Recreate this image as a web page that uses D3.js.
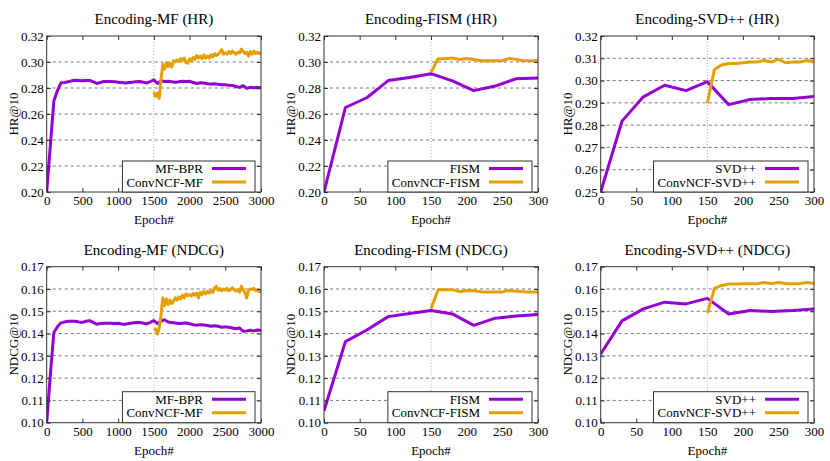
<!DOCTYPE html>
<html>
<head>
<meta charset="utf-8">
<script src="https://cdn.jsdelivr.net/npm/d3@7"></script>
<style>
body {margin:0; background:#fff;}
svg {display:block;}
text {font-family: "Liberation Serif", "Times New Roman", serif; fill:#000;}
</style>
</head>
<body>
<div id="chart"></div>
<script>
// ---- data ----
var mfEpochs = d3.range(0, 3001, 50);
var mfConvEpochs = d3.range(1500, 3001, 25);
var shortEpochs = [0, 30, 60, 90, 120, 150, 180, 210, 240, 270, 300];
var shortConvEpochs = [150, 160, 170, 180, 190, 200, 210, 220, 230, 240, 250, 260, 270, 280, 290, 300];

var mfHrBpr = [0.200,0.235,0.270,0.278,0.284,0.2842,0.2848,0.2855,0.2860,0.2858,0.2855,0.2857,0.2858,0.2848,0.2835,0.2842,0.2850,0.2850,0.2850,0.2848,0.2845,0.2842,0.2838,0.2842,0.2845,0.2848,0.2850,0.2845,0.2838,0.2850,0.2862,0.2835,0.2855,0.2850,0.2852,0.2848,0.2845,0.2848,0.2852,0.2850,0.2852,0.2842,0.2835,0.2840,0.2838,0.2832,0.2830,0.2832,0.2828,0.2825,0.2825,0.2822,0.2820,0.2812,0.2805,0.2818,0.2798,0.2805,0.2802,0.2803,0.2802];
var mfHrConv = [0.2770,0.2735,0.2760,0.2720,0.2865,0.2980,0.2945,0.2995,0.2965,0.2990,0.2960,0.3010,0.3000,0.3015,0.3005,0.3025,0.3010,0.3030,0.2995,0.2990,0.3025,0.3010,0.3035,0.3020,0.3050,0.3030,0.3045,0.3025,0.3055,0.3030,0.3045,0.3030,0.3055,0.3040,0.3065,0.3050,0.3060,0.3075,0.3095,0.3060,0.3070,0.3060,0.3080,0.3065,0.3085,0.3070,0.3060,0.3075,0.3070,0.3100,0.3080,0.3065,0.3075,0.3045,0.3080,0.3060,0.3085,0.3065,0.3075,0.3065,0.3070];
var mfNdcgBpr = [0.100,0.121,0.1405,0.1430,0.1448,0.1452,0.1455,0.1455,0.1455,0.1452,0.1450,0.1455,0.1458,0.1450,0.1442,0.1445,0.1446,0.1446,0.1446,0.1445,0.1446,0.1443,0.1442,0.1445,0.1447,0.1450,0.1450,0.1447,0.1443,0.1450,0.1458,0.1445,0.1455,0.1462,0.1452,0.1450,0.1447,0.1445,0.1446,0.1447,0.1444,0.1440,0.1437,0.1440,0.1438,0.1436,0.1433,0.1435,0.1433,0.1428,0.1430,0.1428,0.1425,0.1422,0.1425,0.1410,0.1412,0.1415,0.1412,0.1416,0.1414];
var mfNdcgConv = [0.1415,0.1420,0.1398,0.1425,0.1480,0.1560,0.1525,0.1555,0.1530,0.1550,0.1535,0.1545,0.1560,0.1550,0.1565,0.1555,0.1572,0.1560,0.1578,0.1570,0.1575,0.1568,0.1580,0.1572,0.1582,0.1560,0.1585,0.1575,0.1588,0.1578,0.1590,0.1582,0.1592,0.1585,0.1605,0.1612,0.1595,0.1602,0.1592,0.1600,0.1595,0.1603,0.1592,0.1598,0.1605,0.1595,0.1590,0.1598,0.1585,0.1612,0.1595,0.1585,0.1560,0.1595,0.1600,0.1598,0.1603,0.1592,0.1596,0.1588,0.1590];

var fismHr = [0.200,0.265,0.2725,0.2857,0.288,0.291,0.2855,0.278,0.2815,0.2872,0.2877];
var fismHrConv = [0.292,0.3025,0.3025,0.303,0.302,0.3027,0.302,0.301,0.301,0.301,0.301,0.3028,0.302,0.301,0.301,0.301];
var svdHr = [0.250,0.2818,0.2927,0.2979,0.2955,0.2995,0.2892,0.2915,0.292,0.292,0.2928];
var svdHrConv = [0.2898,0.305,0.307,0.3077,0.3077,0.308,0.3083,0.3083,0.309,0.3083,0.3095,0.308,0.3083,0.3083,0.309,0.3083];
var fismNdcg = [0.1053,0.1364,0.1416,0.1476,0.149,0.1503,0.1488,0.1437,0.1469,0.1479,0.1485];
var fismNdcgConv = [0.1512,0.1597,0.1597,0.1597,0.1588,0.1593,0.1592,0.1588,0.1587,0.1587,0.1587,0.1593,0.159,0.1588,0.1587,0.1587];
var svdNdcg = [0.1308,0.1457,0.1511,0.1541,0.1533,0.1558,0.1488,0.1503,0.1499,0.1503,0.151];
var svdNdcgConv = [0.1491,0.1603,0.1616,0.1622,0.1622,0.1624,0.1624,0.1624,0.1629,0.1624,0.1629,0.1624,0.1624,0.1624,0.1629,0.1625];

var mfXTicks = [0, 500, 1000, 1500, 2000, 2500, 3000];
var shortXTicks = [0, 50, 100, 150, 200, 250, 300];
var hrTicks = [0.20, 0.22, 0.24, 0.26, 0.28, 0.30, 0.32];
var svdHrTicks = [0.25, 0.26, 0.27, 0.28, 0.29, 0.30, 0.31, 0.32];
var ndcgTicks = [0.10, 0.11, 0.12, 0.13, 0.14, 0.15, 0.16, 0.17];

var panels = [
  {title: 'Encoding-MF (HR)', ylab: 'HR@10', xTicks: mfXTicks, yTicks: hrTicks, split: 1500,
   names: ['MF-BPR', 'ConvNCF-MF'], xs: [mfEpochs, mfConvEpochs], ys: [mfHrBpr, mfHrConv]},
  {title: 'Encoding-FISM (HR)', ylab: 'HR@10', xTicks: shortXTicks, yTicks: hrTicks, split: 150,
   names: ['FISM', 'ConvNCF-FISM'], xs: [shortEpochs, shortConvEpochs], ys: [fismHr, fismHrConv]},
  {title: 'Encoding-SVD++ (HR)', ylab: 'HR@10', xTicks: shortXTicks, yTicks: svdHrTicks, split: 150,
   names: ['SVD++', 'ConvNCF-SVD++'], xs: [shortEpochs, shortConvEpochs], ys: [svdHr, svdHrConv]},
  {title: 'Encoding-MF (NDCG)', ylab: 'NDCG@10', xTicks: mfXTicks, yTicks: ndcgTicks, split: 1500,
   names: ['MF-BPR', 'ConvNCF-MF'], xs: [mfEpochs, mfConvEpochs], ys: [mfNdcgBpr, mfNdcgConv]},
  {title: 'Encoding-FISM (NDCG)', ylab: 'NDCG@10', xTicks: shortXTicks, yTicks: ndcgTicks, split: 150,
   names: ['FISM', 'ConvNCF-FISM'], xs: [shortEpochs, shortConvEpochs], ys: [fismNdcg, fismNdcgConv]},
  {title: 'Encoding-SVD++ (NDCG)', ylab: 'NDCG@10', xTicks: shortXTicks, yTicks: ndcgTicks, split: 150,
   names: ['SVD++', 'ConvNCF-SVD++'], xs: [shortEpochs, shortConvEpochs], ys: [svdNdcg, svdNdcgConv]}
];

var colors = ['#9400D3', '#E69F00'];
var colLeft = [46.7, 324, 600.7], colRight = [261, 538, 814];
var rowTop = [36, 266.7], rowBottom = [192, 422.7];

var svg = d3.select('#chart').append('svg')
    .attr('width', 830)
    .attr('height', 461);

panels.forEach(function(p, i) {
    var c = i % 3, r = Math.floor(i / 3);
    var L = colLeft[c], R = colRight[c], T = rowTop[r], B = rowBottom[r];
    var w = R - L, h = B - T;

    var x = d3.scaleLinear().domain(d3.extent(p.xTicks)).range([0, w]);
    var y = d3.scaleLinear().domain(d3.extent(p.yTicks)).range([h, 0]);

    var g = svg.append('g').attr('transform', 'translate(' + L + ',' + T + ')');

    g.append('clipPath').attr('id', 'clip' + i)
      .append('rect').attr('width', w).attr('height', h);

    // dashed grid
    g.selectAll('.grid').data(p.yTicks.slice(1, -1)).enter().append('line')
        .attr('x1', 0).attr('x2', w)
        .attr('y1', function(d) { return y(d); })
        .attr('y2', function(d) { return y(d); })
        .attr('stroke', '#777').attr('stroke-width', 1)
        .attr('stroke-dasharray', '3,3');

    // dotted marker where ConvNCF starts
    g.append('line')
        .attr('x1', x(p.split)).attr('x2', x(p.split))
        .attr('y1', 0).attr('y2', h)
        .attr('stroke', '#aaa').attr('stroke-width', 1)
        .attr('stroke-dasharray', '1,2');

    var line = d3.line()
        .x(function(d) { return x(d[0]); })
        .y(function(d) { return y(d[1]); });

    p.ys.forEach(function(vals, k) {
        var pts = vals.map(function(v, j) { return [p.xs[k][j], v]; });
        g.append('path')
            .datum(pts)
            .attr('clip-path', 'url(#clip' + i + ')')
            .attr('fill', 'none')
            .attr('stroke', colors[k])
            .attr('stroke-width', 3)
            .attr('stroke-linejoin', 'round')
            .attr('d', line);
    });

    // axes, ticks pointing inwards
    var fmt = d3.format('.2f');
    g.append('g').attr('transform', 'translate(0,' + h + ')')
        .call(d3.axisBottom(x).tickValues(p.xTicks).tickSizeInner(-4).tickSizeOuter(0).tickPadding(4).tickFormat(d3.format('d')));
    g.append('g')
        .call(d3.axisTop(x).tickValues(p.xTicks).tickSizeInner(-4).tickSizeOuter(0).tickFormat(''));
    g.append('g')
        .call(d3.axisLeft(y).tickValues(p.yTicks).tickSizeInner(-4).tickSizeOuter(0).tickPadding(3).tickFormat(fmt));
    g.append('g').attr('transform', 'translate(' + w + ',0)')
        .call(d3.axisRight(y).tickValues(p.yTicks).tickSizeInner(-4).tickSizeOuter(0).tickFormat(''));
    g.selectAll('.domain').remove();
    g.selectAll('.tick line').attr('stroke', '#333');
    g.selectAll('.tick text')
        .style('font-family', '"Liberation Serif", serif')
        .style('font-size', '13px')
        .attr('fill', '#000');

    g.append('rect')
        .attr('width', w).attr('height', h)
        .attr('fill', 'none').attr('stroke', '#333').attr('stroke-width', 1);

    // legend
    var lineEnd = w - 15, lineStart = lineEnd - 34, textRight = lineStart - 9;
    var leg = g.append('g');
    var box = leg.append('rect')
        .attr('fill', '#fff').attr('stroke', '#333').attr('stroke-width', 1);
    var maxW = 0;
    p.names.forEach(function(n, k) {
        var cy = h - 23.5 + k * 13.5;
        var t = leg.append('text')
            .attr('x', textRight).attr('y', cy + 4.5)
            .attr('text-anchor', 'end')
            .style('font-size', '13px')
            .text(n);
        maxW = Math.max(maxW, t.node().getComputedTextLength());
        leg.append('line')
            .attr('x1', lineStart).attr('x2', lineEnd)
            .attr('y1', cy).attr('y2', cy)
            .attr('stroke', colors[k]).attr('stroke-width', 3);
    });
    var bx = textRight - maxW - 4;
    box.attr('x', bx).attr('y', h - 31)
        .attr('width', Math.min(lineEnd + 9, w) - bx).attr('height', 31);

    // titles and labels
    g.append('text')
        .attr('x', w / 2).attr('y', -12)
        .attr('text-anchor', 'middle')
        .style('font-size', '15px')
        .text(p.title);
    g.append('text')
        .attr('x', w / 2).attr('y', h + 32)
        .attr('text-anchor', 'middle')
        .style('font-size', '13px')
        .text('Epoch#');
    g.append('text')
        .attr('transform', 'translate(-29,' + (h / 2) + ') rotate(-90)')
        .attr('text-anchor', 'middle')
        .style('font-size', '13px')
        .text(p.ylab);
});
</script>
</body>
</html>
